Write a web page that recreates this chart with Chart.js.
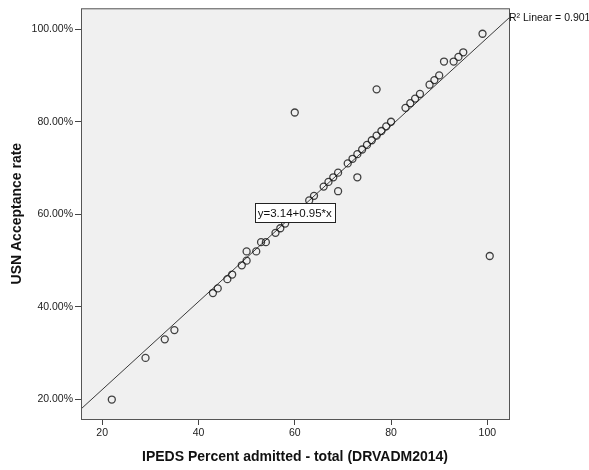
<!DOCTYPE html>
<html>
<head>
<meta charset="utf-8">
<title>USN Acceptance rate vs IPEDS Percent admitted</title>
<script src="https://cdn.jsdelivr.net/npm/chart.js@4"></script>
<style>
    html, body { margin: 0; padding: 0; background: #fff; }
    #wrap { position: relative; width: 589px; height: 470px; }
</style>
</head>
<body>
<div id="wrap"><canvas id="scatterChart"></canvas></div>
<script>
// == data == //
const admitted = [22, 29, 33, 35, 43, 44, 46, 47, 49, 50, 50, 52, 53, 54, 56, 57, 58, 60, 63, 64,
    66, 67, 68, 69, 69, 71, 72, 73, 73, 74, 75, 76, 77, 77, 78, 79, 80, 83, 84, 85,
    86, 88, 89, 90, 91, 93, 94, 95, 99, 100.5];
const acceptance = [20, 29, 33, 35, 43, 44, 46, 47, 49, 50, 52, 52, 54, 54, 56, 57, 58, 82, 63, 64,
    66, 67, 68, 69, 65, 71, 72, 73, 68, 74, 75, 76, 77, 87, 78, 79, 80, 83, 84, 85,
    86, 88, 89, 90, 93, 93, 94, 95, 99, 51];
const xTicks = [20, 40, 60, 80, 100];
const yTicks = [20, 40, 60, 80, 100];
const xRange = [15.6, 104.5];
const yRange = [15.8, 104.5];

// fit line
const fitIntercept = 3.14;
const fitSlope = 0.95;
const fitLabel = "y=3.14+0.95*x";
const r2Label = "R² Linear = 0.901";

const FONT = "'Liberation Sans', Arial, sans-serif";

const points = admitted.map((x, i) => ({ x: x, y: acceptance[i] }));
const fitLine = xRange.map(x => ({ x: x, y: fitIntercept + fitSlope * x }));

// 🔹 background + frame + annotations
const plotDecor = {
    id: "plotDecor",
    beforeDatasetsDraw(chart) {
        const { ctx, chartArea: a } = chart;
        ctx.save();
        ctx.fillStyle = "#f0f0f0";
        ctx.fillRect(a.left, a.top, a.right - a.left, a.bottom - a.top);
        ctx.restore();
    },
    afterDraw(chart) {
        const { ctx, chartArea: a, scales } = chart;
        ctx.save();
        ctx.strokeStyle = "#555";
        ctx.lineWidth = 1;
        ctx.strokeRect(a.left + 0.5, a.top + 0.5, a.right - a.left, a.bottom - a.top);

        // equation box in the middle of the line
        const mx = (xRange[0] + xRange[1]) / 2 - 0.05;
        const cx = scales.x.getPixelForValue(mx);
        const cy = scales.y.getPixelForValue(fitIntercept + fitSlope * mx) - 1;
        ctx.font = "11.5px " + FONT;
        const w = ctx.measureText(fitLabel).width + 6;
        const h = 19;
        ctx.fillStyle = "#fff";
        ctx.fillRect(Math.round(cx - w / 2) + 0.5, Math.round(cy - h / 2) + 0.5, Math.round(w), h);
        ctx.strokeStyle = "#222";
        ctx.strokeRect(Math.round(cx - w / 2) + 0.5, Math.round(cy - h / 2) + 0.5, Math.round(w), h);
        ctx.fillStyle = "#111";
        ctx.textAlign = "center";
        ctx.textBaseline = "middle";
        ctx.fillText(fitLabel, cx, cy + 1);

        // R² text
        ctx.font = "10.5px " + FONT;
        ctx.textAlign = "left";
        ctx.fillStyle = "#111";
        ctx.fillText(r2Label, a.right, a.top + 10);
        ctx.restore();
    }
};

const tickFont = { family: FONT, size: 10.5 };
const titleFont = { family: FONT, size: 14, weight: "bold" };

new Chart(document.getElementById("scatterChart"), {
    type: "scatter",
    data: {
        datasets: [
            {
                label: "USN Acceptance rate",
                data: points,
                pointStyle: "circle",
                pointRadius: 3.5,
                pointBorderWidth: 1.3,
                pointBorderColor: "rgba(20, 20, 20, 0.8)",
                pointBackgroundColor: "rgba(0, 0, 0, 0)",
                order: 1
            },
            {
                type: "line",
                label: "Linear fit",
                data: fitLine,
                borderColor: "#3a3a3a",
                borderWidth: 1,
                pointRadius: 0,
                fill: false,
                tension: 0,
                order: 2
            }
        ]
    },
    options: {
        responsive: true,
        maintainAspectRatio: false,
        animation: false,
        layout: { padding: { top: 4, right: 80, left: 0, bottom: 0 } },
        plugins: {
            legend: { display: false },
            tooltip: { enabled: false }
        },
        scales: {
            x: {
                type: "linear",
                min: xRange[0],
                max: xRange[1],
                afterBuildTicks: s => { s.ticks = xTicks.map(v => ({ value: v })); },
                afterFit: s => { s.height = 51; },
                border: { display: false },
                grid: { drawOnChartArea: false, drawTicks: true, tickLength: 6, tickColor: "#444" },
                ticks: { font: tickFont, color: "#222", padding: 2, maxRotation: 0 },
                title: {
                    display: true,
                    text: "IPEDS Percent admitted - total (DRVADM2014)",
                    font: titleFont,
                    color: "#111",
                    padding: { top: 0, bottom: 4.6 }
                }
            },
            y: {
                type: "linear",
                min: yRange[0],
                max: yRange[1],
                afterBuildTicks: s => { s.ticks = yTicks.map(v => ({ value: v })); },
                afterFit: s => { s.width = 81; },
                border: { display: false },
                grid: { drawOnChartArea: false, drawTicks: true, tickLength: 6, tickColor: "#444" },
                ticks: {
                    font: tickFont,
                    color: "#222",
                    padding: 2,
                    callback: v => v.toFixed(2) + "%"
                },
                title: {
                    display: true,
                    text: "USN Acceptance rate",
                    font: titleFont,
                    color: "#111",
                    padding: { top: 8.6, bottom: 0 }
                }
            }
        }
    },
    plugins: [plotDecor]
});
</script>
</body>
</html>
